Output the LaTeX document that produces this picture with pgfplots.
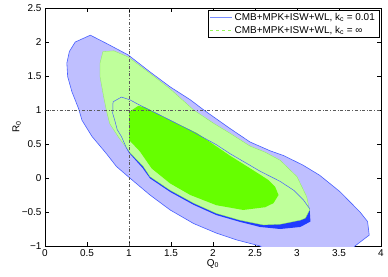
\documentclass[border=0pt]{standalone}
\usepackage{fontspec}
\setmainfont{Liberation Sans}
\usepackage{pgfplots}
\pgfplotsset{compat=1.18}
\definecolor{lblue}{RGB}{191,191,255}
\definecolor{bline}{RGB}{70,95,255}
\definecolor{dblue}{RGB}{32,60,255}
\definecolor{lgreen}{RGB}{191,255,155}
\definecolor{bgreen}{RGB}{102,255,0}
\definecolor{gline}{RGB}{140,235,90}
\definecolor{refgray}{RGB}{90,90,90}
\begin{document}
\begin{tikzpicture}
\begin{axis}[
  scale only axis, width=336bp, height=238bp,
  xmin=0, xmax=4, ymin=-1, ymax=2.5,
  xtick={0,0.5,1,1.5,2,2.5,3,3.5,4},
  xticklabels={0,0.5,1,1.5,2,2.5,3,3.5,4},
  ytick={-1,-0.5,0,0.5,1,1.5,2,2.5},
  yticklabels={−1,−0.5,0,0.5,1,1.5,2,2.5},
  tick align=inside, major tick length=4bp,
  tick style={black, line width=0.4pt},
  axis line style={black, line width=0.5pt},
  font=\fontsize{10}{12}\selectfont,
  xlabel={Q\textsubscript{0}}, ylabel={R\textsubscript{0}},
  xlabel style={yshift=4bp}, ylabel style={yshift=-6bp},
  legend style={at={(1,1)}, anchor=north east, xshift=-2bp, yshift=-2bp,
    draw=black, line width=0.4pt, fill=white, font=\fontsize{10}{12}\selectfont,
    inner xsep=2bp, inner ysep=1bp, row sep=0bp},
  legend cell align=left,
  legend image code/.code={\draw[#1] (0bp,0bp) -- (22bp,0bp);},
]
% outer blue (kc=0.01, 95%)
\addplot[fill=lblue, draw=bline, line width=0.6pt, forget plot] coordinates {
(0.54,2.10)(0.73,1.98)(0.99,1.81)(1.25,1.56)(1.49,1.34)(1.73,1.15)(1.89,1.0)(2.20,0.73)(2.44,0.53)(2.68,0.40)(2.84,0.33)(3.07,0.19)(3.27,0.04)(3.51,-0.20)(3.75,-0.50)(3.84,-0.64)(3.86,-0.84)(3.69,-1.0)(3.66,-1.06)(2.62,-1.06)(2.56,-1.0)(2.28,-0.91)(2.04,-0.81)(1.77,-0.67)(1.49,-0.47)(1.25,-0.25)(1.0,0.01)(0.85,0.17)(0.73,0.36)(0.56,0.61)(0.44,0.85)(0.40,1.02)(0.32,1.27)(0.27,1.49)(0.26,1.69)(0.29,1.86)(0.36,2.0)} -- cycle;
% dark blue (kc=0.01, 68%)
\addplot[fill=dblue, draw=none, forget plot] coordinates {
(0.91,1.19)(1.01,1.15)(1.13,1.07)(1.41,0.90)(1.73,0.70)(2.04,0.49)(2.2,0.36)(2.56,0.10)(2.8,-0.05)(2.96,-0.18)(3.075,-0.32)(3.15,-0.45)(3.16,-0.64)(3.04,-0.72)(2.8,-0.75)(2.56,-0.72)(2.32,-0.645)(2.04,-0.545)(1.77,-0.395)(1.49,-0.205)(1.25,-0.005)(1.16,0.15)(1.0,0.37)(0.97,0.44)(0.91,0.61)(0.86,0.71)(0.83,0.85)(0.806,0.95)(0.81,1.12)} -- cycle;
% light green (kc=inf, 95%)
\addplot[fill=lgreen, draw=gline, line width=0.3pt, forget plot] coordinates {
(0.69,1.86)(0.82,1.87)(0.99,1.78)(1.25,1.54)(1.49,1.31)(1.77,1.0)(2.0,0.81)(2.20,0.66)(2.44,0.47)(2.62,0.38)(2.80,0.26)(3.0,0.02)(3.115,-0.275)(3.15,-0.47)(3.10,-0.59)(3.04,-0.62)(2.8,-0.68)(2.6,-0.69)(2.32,-0.62)(2.04,-0.52)(1.77,-0.37)(1.49,-0.18)(1.25,0.02)(1.17,0.17)(1.0,0.39)(0.87,0.61)(0.77,0.80)(0.73,1.0)(0.69,1.25)(0.655,1.49)(0.655,1.69)} -- cycle;
% bright green (kc=inf, 68%)
\addplot[fill=bgreen, draw=none, forget plot] coordinates {
(1.0,0.97)(1.11,1.06)(1.19,1.04)(1.49,0.85)(1.81,0.66)(2.2,0.33)(2.56,0.05)(2.66,-0.03)(2.74,-0.13)(2.78,-0.25)(2.72,-0.37)(2.62,-0.43)(2.36,-0.47)(2.04,-0.40)(1.73,-0.25)(1.49,-0.08)(1.27,0.14)(1.13,0.39)(1.0,0.56)} -- cycle;
% inner blue line (kc=0.01, 68% contour) over the green
\addplot[draw=bline, line width=0.5pt, forget plot] coordinates {
(1.0,0.38)(0.97,0.44)(0.91,0.61)(0.86,0.71)(0.83,0.85)(0.806,0.95)(0.81,1.12)(0.91,1.19)(1.01,1.15)(1.13,1.07)(1.41,0.90)(1.73,0.70)(2.04,0.49)(2.2,0.36)(2.56,0.10)(2.8,-0.05)(2.96,-0.18)(3.075,-0.32)(3.15,-0.45)};
% reference lines
\addplot[refgray, dash dot, line width=0.5pt, forget plot] coordinates {(1,-1) (1,2.5)};
\addplot[refgray, dash dot, line width=0.5pt, forget plot] coordinates {(0,1) (4,1)};
% legend
\addlegendimage{color={rgb,255:red,120;green,140;blue,255}, line width=0.6pt}
\addlegendentry{CMB+MPK+ISW+WL, k\textsubscript{c} = 0.01}
\addlegendimage{color={rgb,255:red,150;green,245;blue,90}, dashed, line width=0.6pt}
\addlegendentry{CMB+MPK+ISW+WL, k\textsubscript{c} = ∞}
\end{axis}
\path ([shift={(-45bp,-31bp)}]current axis.south west) rectangle ([shift={(7bp,8bp)}]current axis.north east);
\end{tikzpicture}
\end{document}
